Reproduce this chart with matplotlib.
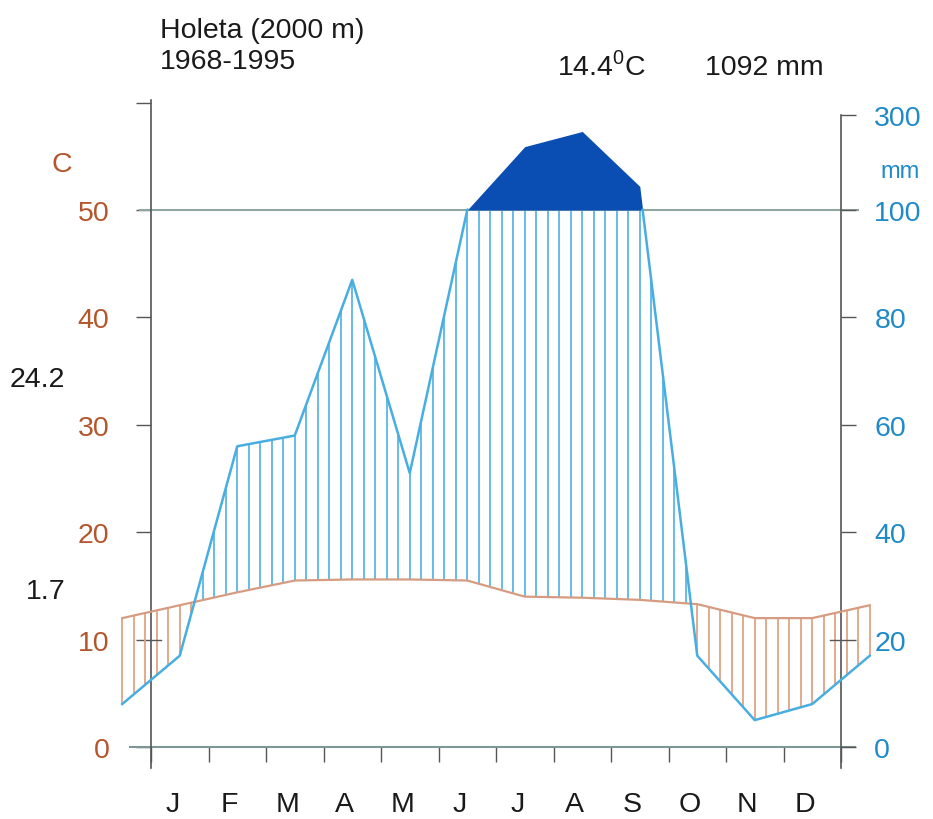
import numpy as np
import matplotlib
matplotlib.use("Agg")
import matplotlib.pyplot as plt

plt.rcParams['font.family'] = ['Liberation Sans', 'DejaVu Sans']
plt.rcParams['mathtext.fontset'] = 'custom'
plt.rcParams['mathtext.rm'] = 'Liberation Sans'

# ---------------- data ----------------
months = ["J", "F", "M", "A", "M", "J", "J", "A", "S", "O", "N", "D"]
temperature = [13.2, 14.4, 15.5, 15.6, 15.6, 15.5, 14.0, 13.9, 13.7, 13.3, 12.0, 12.0]   # deg C
precipitation = [17, 56, 58, 87, 51, 100, 234, 266, 150, 17, 5, 8]                      # mm
temp_ticks = [0, 10, 20, 30, 40, 50]
precip_ticks = [0, 20, 40, 60, 80, 100, 300]
station = "Holeta (2000 m)"
period = "1968-1995"
mean_temp = "14.4$^0$C"
annual_precip = "1092 mm"
abs_max = "24.2"
abs_min = "1.7"

# ---------------- styling ----------------
TEMP_C = '#d69c82'
DRY_HATCH = '#e0a486'
PREC_C = '#48aee2'
WET_HATCH = '#5ab6e6'
DARK = '#0a4db3'
AXIS = '#555555'
BASE = '#7d9696'
LINE50 = '#8ea69d'
LEFT_LBL = '#b4552b'
RIGHT_LBL = '#1f8ac9'
FS = 20.5


def p_scale(p):
    p = np.asarray(p, dtype=float)
    return np.where(p <= 100, p / 2.0, 50 + (p - 100) / 22.7)


W, H = 933, 820
fig = plt.figure(figsize=(W / 100, H / 100), dpi=100)
X0, X1 = 151, 841
Y0 = 748
PX_PER_DEG = 10.74
YTOP = 60
ax = fig.add_axes([X0 / W, (H - Y0) / H, (X1 - X0) / W, YTOP * PX_PER_DEG / H])
ax.set_xlim(0, 12)
ax.set_ylim(0, YTOP)
for s in ax.spines.values():
    s.set_visible(False)

# extended (wrapped) series
x_ext = np.concatenate([[-0.5], np.arange(12) + 0.5, [12.5]])
t_ext = np.concatenate([[temperature[-1]], temperature, [temperature[0]]])
p_ext = np.concatenate([[precipitation[-1]], precipitation, [precipitation[0]]])
ps_ext = p_scale(p_ext)

xf = np.linspace(-0.5, 12.5, 2601)
tf = np.interp(xf, x_ext, t_ext)
pf = np.interp(xf, x_ext, ps_ext)

# hatching
xh = np.arange(-0.5, 12.5 + 1e-9, 0.2)
th = np.interp(xh, x_ext, t_ext)
ph = np.interp(xh, x_ext, ps_ext)
wet = ph > th
ax.vlines(xh[wet], th[wet], np.minimum(ph[wet], 50), color=WET_HATCH, lw=1.3, zorder=2, clip_on=False)
dry = ph < th
ax.vlines(xh[dry], ph[dry], th[dry], color=DRY_HATCH, lw=1.3, zorder=2, clip_on=False)

# very humid part
ax.fill_between(xf, 50, pf, where=pf > 50, color=DARK, lw=0, zorder=3, interpolate=True)

# reference lines
ax.plot([-0.2, 12.3], [50, 50], color=LINE50, lw=1.5, zorder=2.5, clip_on=False)
ax.plot([-0.37, 12.24], [0, 0], color=BASE, lw=1.5, zorder=2.5, clip_on=False)
ax.plot([0, 0], [-2, 60.2], color=AXIS, lw=1.2, zorder=2.5, clip_on=False)
ax.plot([12, 12], [-2, float(p_scale(300))], color=AXIS, lw=1.2, zorder=2.5, clip_on=False)
# small inner ticks at 10 degC / 20 mm
ax.plot([0, 0.17], [10, 10], color=AXIS, lw=1.0, zorder=2.5)
ax.plot([11.8, 12], [10, 10], color=AXIS, lw=1.0, zorder=2.5)

# curves
ax.plot(x_ext, t_ext, color=TEMP_C, lw=1.6, zorder=4, clip_on=False)
pf_line = np.where(pf > 50.05, np.nan, pf)
ax.plot(xf, pf_line, color=PREC_C, lw=1.8, zorder=4, clip_on=False)

# left axis ticks
ax.set_yticks(temp_ticks + [60])
ax.set_yticklabels([str(v) for v in temp_ticks] + [""])
ax.tick_params(axis='y', direction='out', length=11, width=1, color=AXIS,
               pad=19, labelsize=FS, labelcolor=LEFT_LBL)
# x ticks (month boundaries)
ax.set_xticks(range(13))
ax.set_xticklabels([""] * 13)
ax.tick_params(axis='x', direction='out', length=11, width=1, color=AXIS)
for m, name in enumerate(months):
    ax.text(m + 0.5 - 0.13, -5.3, name, ha='center', va='center', fontsize=FS, color='#1a1a1a')

# right axis
ax2 = ax.twinx()
ax2.set_ylim(0, YTOP)
for s in ax2.spines.values():
    s.set_visible(False)
ax2.set_yticks(p_scale(precip_ticks))
ax2.set_yticklabels([str(v) for v in precip_ticks])
ax2.tick_params(axis='y', direction='out', length=11, width=1, color=AXIS,
                pad=13, labelsize=FS, labelcolor=RIGHT_LBL)


def ftext(x, y, s, **kw):
    fig.text(x / W, 1 - y / H, s, **kw)


ftext(160, 31, station, ha='left', va='center', fontsize=FS, color='#1a1a1a')
ftext(160, 62, period, ha='left', va='center', fontsize=FS, color='#1a1a1a')
ftext(557, 66, mean_temp, ha='left', va='center', fontsize=FS, color='#1a1a1a')
ftext(705, 68, annual_precip, ha='left', va='center', fontsize=FS, color='#1a1a1a')
ftext(62, 165, "C", ha='center', va='center', fontsize=FS, color=LEFT_LBL)
ftext(880, 172, "mm", ha='left', va='center', fontsize=17, color=RIGHT_LBL)
ftext(65, 380, abs_max, ha='right', va='center', fontsize=FS, color='#1a1a1a')
ftext(65, 592, abs_min, ha='right', va='center', fontsize=FS, color='#1a1a1a')

fig.savefig("out.png", dpi=100, facecolor='white')
